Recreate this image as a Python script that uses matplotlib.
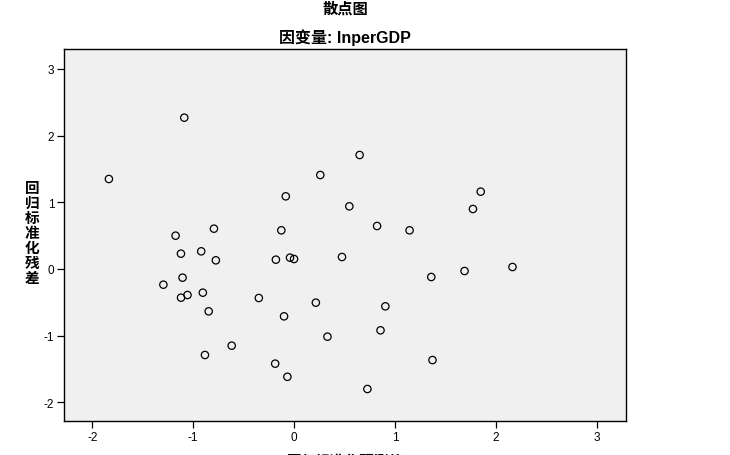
import matplotlib
matplotlib.use("Agg")
import matplotlib.pyplot as plt

plt.rcParams['font.family'] = ['Liberation Sans', 'Noto Sans CJK SC', 'DejaVu Sans']
plt.rcParams['axes.unicode_minus'] = False

pred = [-1.835, -1.088, 0.65, 0.26, 1.85, 1.773, -0.082, 0.548, -1.174, -0.794,
        -0.126, 0.823, 1.145, -1.121, -0.92, -0.775, -0.18, -0.04, 0.0, 0.475,
        2.165, 1.69, 1.36, -1.105, -1.295, -1.12, -1.056, -0.904, -0.349, -0.846,
        0.216, 0.905, -0.099, 0.857, 0.331, -0.618, -0.883, 1.372, -0.187, -0.066,
        0.727]
resid = [1.35, 2.27, 1.71, 1.41, 1.16, 0.90, 1.09, 0.94, 0.50, 0.605,
         0.58, 0.645, 0.58, 0.23, 0.265, 0.13, 0.14, 0.17, 0.15, 0.18,
         0.03, -0.03, -0.12, -0.13, -0.235, -0.43, -0.39, -0.355, -0.435, -0.635,
         -0.505, -0.56, -0.71, -0.92, -1.015, -1.15, -1.29, -1.366, -1.42, -1.617,
         -1.80]
ticks = [-2, -1, 0, 1, 2, 3]

title = "散点图"
subtitle = "因变量: lnperGDP"
xlabel = "回归标准化预测值"
ylabel = "回归标准化残差"

fig = plt.figure(figsize=(7.3, 4.56), dpi=100)
ax = fig.add_axes([64/730, 34/456, 562/730, 372/456])
ax.set_facecolor('#F0F0F0')
ax.scatter(pred, resid, s=28, facecolors='none', edgecolors='black', linewidths=0.9)
ax.set_xlim(-2.28, 3.29)
ax.set_ylim(-2.28, 3.30)
ax.set_xticks(ticks)
ax.set_yticks(ticks)
ax.tick_params(direction='out', length=5, width=0.9, labelsize=8.5, colors='black', pad=2)
for s in ax.spines.values():
    s.set_color('black')
    s.set_linewidth(1.0)

mixed = ['Liberation Sans', 'Noto Sans CJK SC', 'DejaVu Sans']
cjk = ['Noto Sans CJK SC', 'DejaVu Sans']
fig.text(345/730, 1 - 9/456, title, ha='center', va='center', fontsize=11,
         family=cjk, fontweight='bold')
fig.text(345/730, 1 - 38/456, subtitle, ha='center', va='center', fontsize=11.5,
         family=mixed, fontweight='bold')
fig.text(32/730, 1 - 233/456, "\n".join(ylabel), ha='center', va='center', fontsize=10.5,
         family=cjk, fontweight='bold', linespacing=0.92)
fig.text(345/730, 1 - 461/456, xlabel, ha='center', va='center', fontsize=10.5,
         family=cjk, fontweight='bold')

fig.savefig("out.png", dpi=100, facecolor='white')
